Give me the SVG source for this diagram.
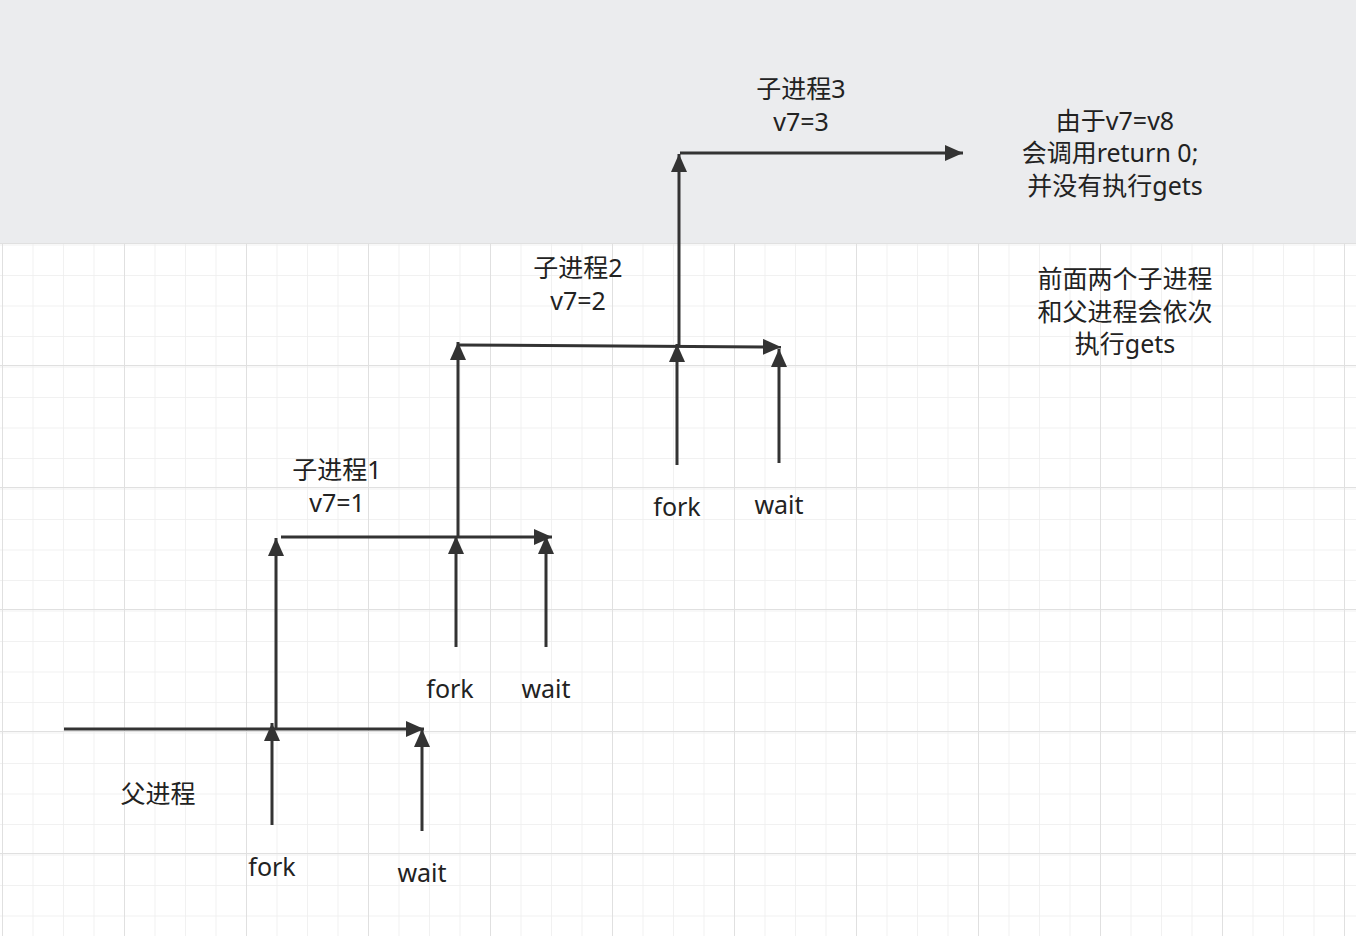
<svg xmlns="http://www.w3.org/2000/svg" width="1356" height="936" viewBox="0 0 1356 936">
<defs>
<pattern id="minor" x="2" y="0.5" width="30.5" height="30.5" patternUnits="userSpaceOnUse"><path d="M0 0H30.5M0 0V30.5" fill="none" stroke="#ededed" stroke-width="1.5"/></pattern>
<pattern id="major" x="2" y="243" width="122" height="122" patternUnits="userSpaceOnUse"><path d="M0 0H122M0 0V122" fill="none" stroke="#e0e0e0" stroke-width="2"/></pattern>
<marker id="a" viewBox="0 0 18 16" refX="18" refY="8" markerWidth="18" markerHeight="16" markerUnits="userSpaceOnUse" orient="auto"><path d="M0 0L18 8L0 16Z" fill="#333"/></marker>
</defs>
<style>
.c line{stroke:#333;stroke-width:3;marker-end:url(#a)}
text{font-family:"Noto Sans","Noto Sans CJK SC",sans-serif;font-size:25px;fill:#222;text-anchor:middle}
</style>
<rect width="1356" height="936" fill="#fff"/>
<rect width="1356" height="936" fill="url(#minor)"/>
<rect width="1356" height="936" fill="url(#major)"/>
<rect width="1356" height="243" fill="#ebecee"/>
<g class="c" id="connectors">
<line x1="64" y1="729" x2="424" y2="729"/>
<line x1="272" y1="825" x2="272" y2="723"/>
<line x1="422" y1="831" x2="422" y2="729"/>
<line x1="276" y1="729" x2="276" y2="538"/>
<line x1="281" y1="537" x2="552" y2="537"/>
<line x1="456" y1="647" x2="456" y2="536"/>
<line x1="546" y1="647" x2="546" y2="536"/>
<line x1="458" y1="537" x2="458" y2="342"/>
<line x1="458" y1="345" x2="781" y2="347"/>
<line x1="677" y1="465" x2="677" y2="344"/>
<line x1="779" y1="463" x2="779" y2="349"/>
<line x1="679" y1="347" x2="679" y2="154"/>
<line x1="680" y1="153" x2="963" y2="153"/>
</g>
<g id="n-parent"><text x="158" y="803">父进程</text></g>
<g id="n-fork1"><text x="272" y="876">fork</text></g>
<g id="n-wait1"><text x="422" y="882">wait</text></g>
<g id="n-child1"><text x="337" y="479">子进程1</text><text x="337" y="512">v7=1</text></g>
<g id="n-fork2"><text x="450" y="698">fork</text></g>
<g id="n-wait2"><text x="546" y="698">wait</text></g>
<g id="n-child2"><text x="578" y="277">子进程2</text><text x="578" y="310">v7=2</text></g>
<g id="n-fork3"><text x="677" y="516">fork</text></g>
<g id="n-wait3"><text x="779" y="514">wait</text></g>
<g id="n-child3"><text x="801" y="98">子进程3</text><text x="801" y="131">v7=3</text></g>
<g id="n-note1"><text x="1115" y="130">由于v7=v8</text><text x="1110" y="162">会调用return 0;</text><text x="1115" y="195">并没有执行gets</text></g>
<g id="n-note2"><text x="1125" y="288">前面两个子进程</text><text x="1125" y="321">和父进程会依次</text><text x="1125" y="353">执行gets</text></g>
</svg>
